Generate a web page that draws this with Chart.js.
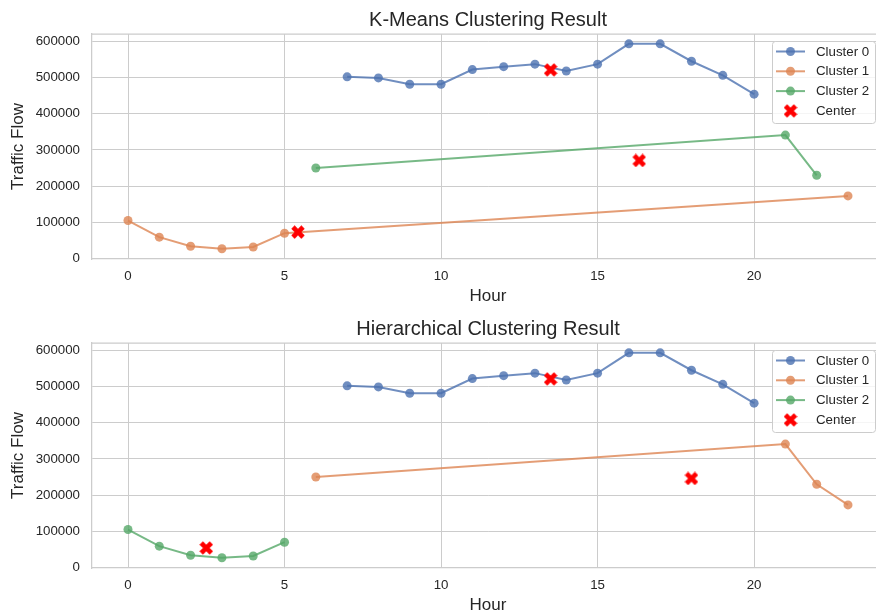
<!DOCTYPE html>
<html>
<head>
<meta charset="utf-8">
<script src="https://cdn.jsdelivr.net/npm/chart.js@4"></script>
<style>
  html, body { margin: 0; padding: 0; background: #fff; }
  #wrap { position: relative; width: 876px; height: 611px; overflow: hidden; }
  .box { position: absolute; left: 0; width: 889px; height: 305px; }
</style>
</head>
<body>
<div id="wrap">
  <div class="box" style="top:0"><canvas id="kmeans"></canvas></div>
  <div class="box" style="top:309px"><canvas id="hier"></canvas></div>
</div>
<script>
// values
const hoursA = [7, 8, 9, 10, 11, 12, 13, 14, 15, 16, 17, 18, 19, 20];
const flowA = [502000, 499000, 481500, 481500, 522000, 530000, 537000, 518000, 537000, 593000, 593000, 545000, 506000, 454000];
const hoursB = [0, 1, 2, 3, 4, 5];
const flowB = [105000, 59000, 34000, 27000, 32000, 70000];
const hoursC = [6, 21, 22, 23];
const flowC = [250000, 341000, 230000, 173000];

// K-Means: cluster 1 = night hours + 23, cluster 2 = 6, 21, 22
const kmHours = [hoursA, [0, 1, 2, 3, 4, 5, 23], [6, 21, 22]];
const kmFlow = [flowA, [105000, 59000, 34000, 27000, 32000, 70000, 173000], [250000, 341000, 230000]];
const kmCenterX = [13.5, 5.43, 16.33];
const kmCenterY = [521000, 73000, 271000];

// Hierarchical: cluster 1 = 6, 21, 22, 23, cluster 2 = 0..5
const hcHours = [hoursA, hoursC, hoursB];
const hcFlow = [flowA, flowC, flowB];
const hcCenterX = [13.5, 18, 2.5];
const hcCenterY = [521000, 246000, 54000];

const xTicks = [0, 5, 10, 15, 20];
const yTicks = [0, 100000, 200000, 300000, 400000, 500000, 600000];
const clusterNames = ['Cluster 0', 'Cluster 1', 'Cluster 2'];
const colors = ['rgba(76,114,176,0.8)', 'rgba(221,132,82,0.8)', 'rgba(85,168,104,0.8)'];

const FONT = "'Liberation Sans', Arial, sans-serif";
const TEXT = '#262626';
const GRID = '#cccccc';

// filled "X" marker
function makeX(size) {
    const c = document.createElement('canvas');
    c.width = size; c.height = size;
    const g = c.getContext('2d');
    const d = size * 1.02, w = d / 6, L = d / 2;
    g.translate(size / 2, size / 2);
    g.rotate(Math.PI / 4);
    g.fillStyle = '#ff0000';
    g.beginPath();
    g.moveTo(-w, -L); g.lineTo(w, -L); g.lineTo(w, -w); g.lineTo(L, -w);
    g.lineTo(L, w); g.lineTo(w, w); g.lineTo(w, L); g.lineTo(-w, L);
    g.lineTo(-w, w); g.lineTo(-L, w); g.lineTo(-L, -w); g.lineTo(-w, -w);
    g.closePath();
    g.fill();
    return c;
}
const xMark = makeX(14);

const framePlugin = {
    id: 'frame',
    afterDraw(chart) {
        const { ctx, chartArea: a } = chart;
        ctx.save();
        ctx.strokeStyle = GRID;
        ctx.lineWidth = 1.25;
        ctx.beginPath();
        ctx.moveTo(a.left, a.top); ctx.lineTo(a.right, a.top); ctx.lineTo(a.right, a.bottom);
        ctx.stroke();

        // legend, upper right
        const right = 875, top = a.top + 7;
        const bw = 103, bh = 82, left = right - bw;
        ctx.fillStyle = 'rgba(255,255,255,0.8)';
        ctx.strokeStyle = GRID;
        ctx.lineWidth = 1;
        ctx.beginPath();
        ctx.roundRect(left + 0.5, top + 0.5, bw, bh, 3);
        ctx.fill(); ctx.stroke();
        ctx.font = '13.3px ' + FONT;
        ctx.textBaseline = 'middle';
        ctx.fillStyle = TEXT;
        const names = clusterNames.concat(['Center']);
        names.forEach((n, i) => {
            const y = top + 10.5 + i * 19.8;
            const hx = left + 18.5;
            if (i < 3) {
                ctx.strokeStyle = colors[i];
                ctx.lineWidth = 2;
                ctx.beginPath(); ctx.moveTo(hx - 14.5, y); ctx.lineTo(hx + 14.5, y); ctx.stroke();
                ctx.fillStyle = colors[i];
                ctx.beginPath(); ctx.arc(hx, y, 4.5, 0, Math.PI * 2); ctx.fill();
            } else {
                ctx.drawImage(xMark, hx - 7, y - 7);
            }
            ctx.fillStyle = TEXT;
            ctx.fillText(n, left + 44, y + 0.5);
        });
        ctx.restore();
    }
};

function makeChart(id, title, hours, flow, cx, cy) {
    const datasets = [{
        label: 'Center',
        data: cx.map((x, i) => ({ x: x, y: cy[i] })),
        pointStyle: xMark,
        showLine: false,
        order: 0
    }];
    hours.forEach((h, k) => {
        datasets.push({
            label: clusterNames[k],
            data: h.map((x, i) => ({ x: x, y: flow[k][i] })),
            showLine: true,
            borderColor: colors[k],
            backgroundColor: colors[k],
            borderWidth: 2,
            pointRadius: 4.5,
            pointBorderWidth: 0,
            order: k + 1
        });
    });

    return new Chart(document.getElementById(id), {
        type: 'scatter',
        data: { datasets: datasets },
        options: {
            responsive: true,
            maintainAspectRatio: false,
            animation: false,
            layout: { padding: { left: 0, right: 2, top: 0, bottom: 0 } },
            plugins: {
                legend: { display: false },
                tooltip: { enabled: false },
                title: {
                    display: true,
                    text: title,
                    fullSize: false,
                    color: TEXT,
                    font: { family: FONT, size: 20, weight: 'normal' },
                    padding: { top: 8, bottom: 2 }
                }
            },
            scales: {
                x: {
                    type: 'linear',
                    min: -1.15,
                    max: 24.15,
                    afterBuildTicks: ax => { ax.ticks = xTicks.map(v => ({ value: v })); },
                    afterFit: ax => { ax.height = 46; },
                    ticks: {
                        color: TEXT,
                        padding: 9,
                        font: { family: FONT, size: 13.3 },
                        callback: v => String(v)
                    },
                    grid: { color: GRID, lineWidth: 1, drawTicks: false },
                    border: { color: GRID, width: 1.25 },
                    title: {
                        display: true, text: 'Hour', color: TEXT,
                        font: { family: FONT, size: 17, lineHeight: 1.05 },
                        padding: { top: 0, bottom: 0 }
                    }
                },
                y: {
                    type: 'linear',
                    min: -1250,
                    max: 620250,
                    afterBuildTicks: ax => { ax.ticks = yTicks.map(v => ({ value: v })); },
                    afterFit: ax => { ax.width = 92; },
                    ticks: {
                        color: TEXT,
                        padding: 12,
                        font: { family: FONT, size: 13.3 },
                        callback: v => String(v)
                    },
                    grid: { color: GRID, lineWidth: 1, drawTicks: false },
                    border: { color: GRID, width: 1.25 },
                    title: {
                        display: true, text: 'Traffic Flow', color: TEXT,
                        font: { family: FONT, size: 17 },
                        padding: { top: 8, bottom: 0 }
                    }
                }
            }
        },
        plugins: [framePlugin]
    });
}

makeChart('kmeans', 'K-Means Clustering Result', kmHours, kmFlow, kmCenterX, kmCenterY);
makeChart('hier', 'Hierarchical Clustering Result', hcHours, hcFlow, hcCenterX, hcCenterY);
</script>
</body>
</html>
